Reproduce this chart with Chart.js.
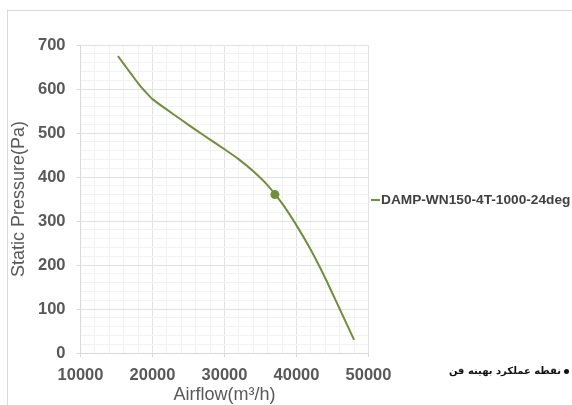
<!DOCTYPE html>
<html>
<head>
<meta charset="utf-8">
<script src="https://cdn.jsdelivr.net/npm/chart.js@4/dist/chart.umd.min.js"></script>
<style>
  html, body { margin: 0; padding: 0; background: #fff; overflow: hidden; }
  #wrap { position: relative; width: 572px; height: 405px; overflow: hidden; }
  #frame { position: absolute; left: 7px; top: 10px; width: 700px; height: 600px; border: 1px solid #d9d9d9; }
  #box { position: absolute; left: 0; top: 0; width: 572px; height: 420px; }
  .leg { position: absolute; font-family: "Liberation Sans", Arial, sans-serif; color: #404040; white-space: nowrap; }
  #leg1 { left: 371px; top: 191px; font-size: 13.7px; font-weight: bold; line-height: 18px; }
  #leg1 .ln { display: inline-block; width: 9px; height: 2px; background: #6f9135; vertical-align: middle; margin-right: 1px; }
  #leg2 { right: 0px; top: 363px; width: 130px; height: 16px; }
  #leg2 .txt { position: absolute; right: 11px; top: 0; direction: rtl; font-family: "DejaVu Sans", sans-serif; font-size: 10px; font-weight: bold; line-height: 16px; color: #111; }
  #leg2 .dot { position: absolute; right: 3px; top: 6px; width: 5px; height: 5px; border-radius: 50%; background: #111; }
</style>
</head>
<body>
<div id="wrap">
  <div id="frame"></div>
  <div id="box"><canvas id="myChart" width="572" height="420"></canvas></div>
  <div class="leg" id="leg1"><span class="ln"></span>DAMP-WN150-4T-1000-24deg</div>
  <div class="leg" id="leg2"><span class="txt">نقطه عملکرد بهینه فن</span><span class="dot"></span></div>
</div>
<script>
// curve
const airflow = [15200, 16000, 17000, 18000, 19000, 20000, 22000, 24000, 26000, 28000, 30000, 32000, 34000, 36000, 38000, 40000, 42000, 44000, 46000, 48000];
const pressure = [675, 657, 635, 613, 594, 577, 553, 530, 507, 485, 463, 440, 413, 381, 340, 290, 234, 170, 100, 30];

// optimum operating point
const opAirflow = [37000];
const opPressure = [360];

const xTicks = [10000, 20000, 30000, 40000, 50000];
const yTicks = [0, 100, 200, 300, 400, 500, 600, 700];

const seriesName = 'DAMP-WN150-4T-1000-24deg';
const lineColor = '#6f9135';

const curve = airflow.map((a, i) => ({ x: a, y: pressure[i] }));
const opPoint = opAirflow.map((a, i) => ({ x: a, y: opPressure[i] }));

const isMajorX = v => xTicks.includes(v);
const isMajorY = v => yTicks.includes(v);

const tickFont = { family: 'Liberation Sans, Arial, sans-serif', size: 16.5, weight: 'bold' };
const titleFont = { family: 'Liberation Sans, Arial, sans-serif', size: 18, weight: 'normal' };

const ctx = document.getElementById('myChart');

new Chart(ctx, {
    type: 'scatter',
    data: {
        datasets: [{
            label: seriesName,
            data: curve,
            showLine: true,
            borderColor: lineColor,
            borderWidth: 2,
            pointRadius: 0,
            tension: 0.2,
        }, {
            label: 'نقطه عملکرد بهینه فن',
            data: opPoint,
            pointRadius: 4.5,
            pointBackgroundColor: lineColor,
            pointBorderColor: lineColor,
            borderWidth: 0,
        }]
    },
    options: {
        responsive: false,
        animation: false,
        layout: { padding: { left: 0, right: 203.5, top: 45, bottom: 0 } },
        plugins: { legend: { display: false }, tooltip: { enabled: false } },
        scales: {
            x: {
                type: 'linear',
                min: 10000,
                max: 50000,
                afterFit: (scale) => { scale.height = 67; },
                ticks: {
                    stepSize: 2000,
                    autoSkip: false,
                    maxRotation: 0,
                    padding: 9,
                    color: '#595959',
                    font: tickFont,
                    callback: (v) => isMajorX(v) ? String(v) : '',
                },
                grid: {
                    color: (c) => isMajorX(c.tick.value) ? '#e2e2e2' : '#f2f2f2',
                    tickColor: (c) => isMajorX(c.tick.value) ? '#d9d9d9' : 'rgba(0,0,0,0)',
                    tickLength: 4,
                },
                border: { color: '#d9d9d9' },
                title: {
                    display: true,
                    text: 'Airflow(m³/h)',
                    color: '#595959',
                    font: titleFont,
                    padding: { top: 0, bottom: 14 },
                },
            },
            y: {
                min: 0,
                max: 700,
                afterFit: (scale) => { scale.width = 80.5; },
                ticks: {
                    stepSize: 20,
                    autoSkip: false,
                    padding: 11,
                    color: '#595959',
                    font: tickFont,
                    callback: (v) => isMajorY(v) ? String(v) : '',
                },
                grid: {
                    color: (c) => isMajorY(c.tick.value) ? '#e2e2e2' : '#f2f2f2',
                    tickColor: (c) => isMajorY(c.tick.value) ? '#d9d9d9' : 'rgba(0,0,0,0)',
                    tickLength: 4,
                },
                border: { color: '#d9d9d9' },
                title: {
                    display: true,
                    text: 'Static Pressure(Pa)',
                    color: '#595959',
                    font: titleFont,
                    padding: { top: 8, bottom: 0 },
                },
            },
        },
    },
});
</script>
</body>
</html>
